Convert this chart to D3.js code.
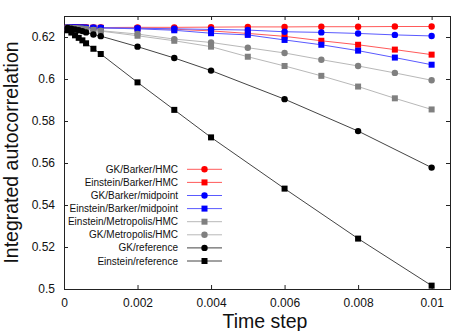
<!DOCTYPE html>
<html lang="en">
<head>
<meta charset="UTF-8">
<title>Integrated autocorrelation vs time step</title>
<script src="https://cdn.jsdelivr.net/npm/d3@7"></script>
<style>
    html, body { margin: 0; padding: 0; background: #fff; }
    svg text { font-family: "Liberation Sans", Arial, sans-serif; fill: #111; }
</style>
</head>
<body>
<svg id="chart" width="474" height="331"></svg>
<script>
    // Данные с графика
    const xColored = [0.0001, 0.0002, 0.0003, 0.0004, 0.0005, 0.0006, 0.0008, 0.001,
                      0.002, 0.003, 0.004, 0.005, 0.006, 0.007, 0.008, 0.009, 0.01];
    const xReference = [0.0001, 0.0002, 0.0003, 0.0004, 0.0005, 0.0006, 0.0008, 0.001,
                        0.002, 0.003, 0.004, 0.006, 0.008, 0.01];

    const gkBarkerHmc = [0.6245, 0.6245, 0.6245, 0.6245, 0.6245, 0.6245, 0.6245, 0.6245,
                         0.6246, 0.6246, 0.6247, 0.6248, 0.6248, 0.6249, 0.6249, 0.6250, 0.6250];
    const einsteinBarkerHmc = [0.6245, 0.6245, 0.6245, 0.6245, 0.6245, 0.6245, 0.6244, 0.6244,
                               0.6241, 0.6237, 0.6229, 0.6217, 0.6203, 0.6182, 0.6163, 0.6140, 0.6116];
    const gkBarkerMidpoint = [0.6245, 0.6245, 0.6245, 0.6245, 0.6245, 0.6244, 0.6244, 0.6244,
                              0.6242, 0.6239, 0.6236, 0.6233, 0.6225, 0.6222, 0.6217, 0.6210, 0.6205];
    const einsteinBarkerMidpoint = [0.6245, 0.6245, 0.6245, 0.6244, 0.6244, 0.6244, 0.6244, 0.6243,
                                    0.6239, 0.6232, 0.6218, 0.6210, 0.6186, 0.6163, 0.6135, 0.6102, 0.6068];
    const einsteinMetropolisHmc = [0.6244, 0.6243, 0.6242, 0.6240, 0.6239, 0.6237, 0.6233, 0.6228,
                                   0.6206, 0.6182, 0.6154, 0.6106, 0.6062, 0.6015, 0.5964, 0.5908, 0.5855];
    const gkMetropolisHmc = [0.6244, 0.6243, 0.6242, 0.6241, 0.6240, 0.6238, 0.6234, 0.6230,
                             0.6214, 0.6190, 0.6174, 0.6149, 0.6124, 0.6092, 0.6062, 0.6029, 0.5994];
    const gkReference = [0.6243, 0.6240, 0.6236, 0.6232, 0.6228, 0.6222, 0.6212, 0.6204,
                         0.6154, 0.6100, 0.6040, 0.5904, 0.5752, 0.5578];
    const einsteinReference = [0.6232, 0.6221, 0.6208, 0.6196, 0.6184, 0.6170, 0.6144, 0.6119,
                               0.5984, 0.5853, 0.5722, 0.5478, 0.5240, 0.5016];

    const xTicks = [0, 0.002, 0.004, 0.006, 0.008, 0.01];
    const yTicks = [0.5, 0.52, 0.54, 0.56, 0.58, 0.6, 0.62];

    // Серии в порядке легенды
    const series = [
        { name: 'GK/Barker/HMC', xs: xColored, ys: gkBarkerHmc, marker: 'circle', color: '#ff0000', line: '#ff5a5a' },
        { name: 'Einstein/Barker/HMC', xs: xColored, ys: einsteinBarkerHmc, marker: 'square', color: '#ff0000', line: '#ff5a5a' },
        { name: 'GK/Barker/midpoint', xs: xColored, ys: gkBarkerMidpoint, marker: 'circle', color: '#0000ff', line: '#5a5aff' },
        { name: 'Einstein/Barker/midpoint', xs: xColored, ys: einsteinBarkerMidpoint, marker: 'square', color: '#0000ff', line: '#5a5aff' },
        { name: 'Einstein/Metropolis/HMC', xs: xColored, ys: einsteinMetropolisHmc, marker: 'square', color: '#808080', line: '#b8b8b8' },
        { name: 'GK/Metropolis/HMC', xs: xColored, ys: gkMetropolisHmc, marker: 'circle', color: '#808080', line: '#b8b8b8' },
        { name: 'GK/reference', xs: xReference, ys: gkReference, marker: 'circle', color: '#000000', line: '#444444' },
        { name: 'Einstein/reference', xs: xReference, ys: einsteinReference, marker: 'square', color: '#000000', line: '#444444' }
    ];

    const svg = d3.select('#chart');
    const plotLeft = 64, plotRight = 450, plotTop = 16, plotBottom = 289;

    const x = d3.scaleLinear().domain([0, 0.0105]).range([plotLeft, plotRight]);
    const y = d3.scaleLinear().domain([0.5, 0.63]).range([plotBottom, plotTop]);
    const fmt = d3.format('~g');

    // Оси (тики внутрь, с зеркалом)
    const axisStyle = sel => {
        sel.select('.domain').remove();
        sel.selectAll('line').attr('stroke', '#222');
        sel.selectAll('text').style('font-size', '12px').attr('fill', '#111');
    };
    svg.append('g').attr('transform', `translate(0,${plotBottom})`)
        .call(d3.axisBottom(x).tickValues(xTicks).tickFormat(fmt).tickSizeInner(-4).tickSizeOuter(0).tickPadding(9))
        .call(axisStyle);
    svg.append('g').attr('transform', `translate(0,${plotTop})`)
        .call(d3.axisTop(x).tickValues(xTicks).tickFormat('').tickSizeInner(-4).tickSizeOuter(0))
        .call(axisStyle);
    svg.append('g').attr('transform', `translate(${plotLeft},0)`)
        .call(d3.axisLeft(y).tickValues(yTicks).tickFormat(fmt).tickSizeInner(-4).tickSizeOuter(0).tickPadding(9))
        .call(axisStyle);
    svg.append('g').attr('transform', `translate(${plotRight},0)`)
        .call(d3.axisRight(y).tickValues(yTicks).tickFormat('').tickSizeInner(-4).tickSizeOuter(0))
        .call(axisStyle);

    svg.append('rect')
        .attr('x', plotLeft + 0.5).attr('y', plotTop + 0.5)
        .attr('width', plotRight - plotLeft).attr('height', plotBottom - plotTop)
        .attr('fill', 'none').attr('stroke', '#222').attr('stroke-width', 1);

    // Маркер
    function drawMarker(g, type, cx, cy, color) {
        if (type === 'circle') {
            g.append('circle').attr('cx', cx).attr('cy', cy).attr('r', 3.2).attr('fill', color);
        } else {
            g.append('rect').attr('x', cx - 3).attr('y', cy - 3).attr('width', 6).attr('height', 6).attr('fill', color);
        }
    }

    const line = d3.line().x(d => x(d[0])).y(d => y(d[1]));
    const plot = svg.append('g');

    series.forEach(s => {
        const pts = s.xs.map((v, i) => [v, s.ys[i]]);
        plot.append('path').datum(pts)
            .attr('d', line)
            .attr('fill', 'none')
            .attr('stroke', s.line)
            .attr('stroke-width', 1);
        const mg = plot.append('g');
        pts.forEach(p => drawMarker(mg, s.marker, x(p[0]), y(p[1]), s.color));
    });

    // Легенда
    const legend = svg.append('g');
    series.forEach((s, i) => {
        const cy = 169.3 + i * 13.1;
        legend.append('text')
            .attr('x', 178).attr('y', cy).attr('dy', '0.35em')
            .attr('text-anchor', 'end')
            .style('font-size', '10px')
            .text(s.name);
        legend.append('line')
            .attr('x1', 187).attr('x2', 222).attr('y1', cy).attr('y2', cy)
            .attr('stroke', s.line).attr('stroke-width', 1);
        drawMarker(legend, s.marker, 204.5, cy, s.color);
    });

    // Подписи осей
    svg.append('text')
        .attr('x', 265).attr('y', 328)
        .attr('text-anchor', 'middle')
        .style('font-size', '19.5px')
        .text('Time step');
    svg.append('text')
        .attr('transform', `translate(18,${(plotTop + plotBottom) / 2}) rotate(-90)`)
        .attr('text-anchor', 'middle')
        .style('font-size', '19.5px')
        .text('Integrated autocorrelation');
</script>
</body>
</html>
